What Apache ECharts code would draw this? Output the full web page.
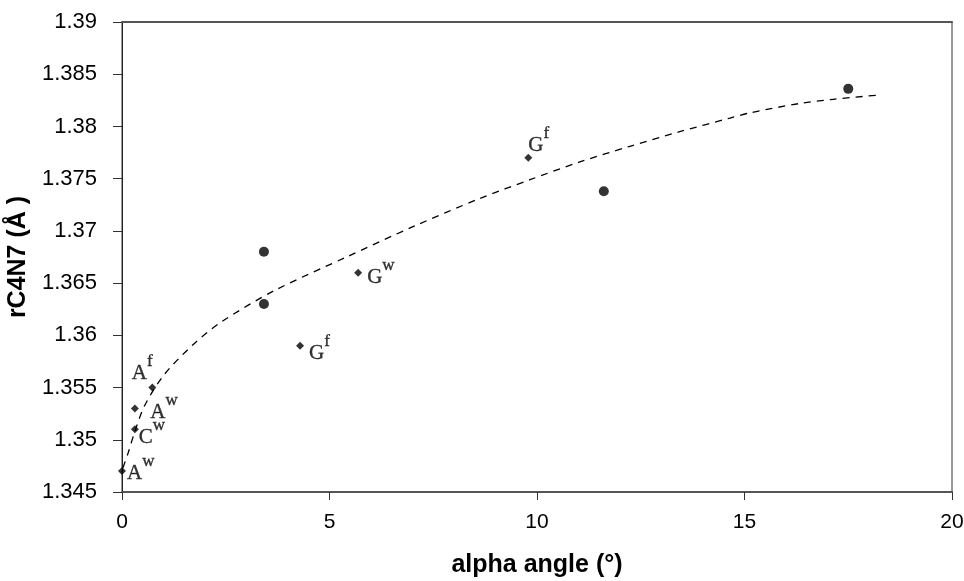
<!DOCTYPE html>
<html>
<head>
<meta charset="utf-8">
<script src="https://cdn.jsdelivr.net/npm/echarts@6/dist/echarts.min.js"></script>
<style>html,body{margin:0;padding:0;background:#fff;}#c{width:964px;height:581px;}</style>
</head>
<body>
<div id="c"></div>
<script>
// ---- data ----
const circleX = [3.42, 3.42, 11.61, 17.5];
const circleY = [1.368, 1.363, 1.3738, 1.3836];

const diamondX = [0.0, 0.31, 0.31, 0.73, 4.29, 5.69, 9.79];
const diamondY = [1.347, 1.351, 1.353, 1.355, 1.359, 1.366, 1.377];
const diamondBase = ['A', 'C', 'A', 'A', 'G', 'G', 'G'];
const diamondSup = ['w', 'w', 'w', 'f', 'f', 'w', 'f'];

const curveX = [0.02, 0.145, 0.31, 0.55, 1.01, 1.71, 2.40, 3.68, 5.41, 7.01, 8.62, 9.83, 11.03, 12.24, 13.44, 14.65, 15.13, 16.33, 17.14, 18.22];
const curveY = [1.3473, 1.3487, 1.3508, 1.3533, 1.3562, 1.3591, 1.3613, 1.3643, 1.3675, 1.3704, 1.3731, 1.3749, 1.3766, 1.3781, 1.3795, 1.3808, 1.3813, 1.3822, 1.3826, 1.3830];

const xTicks = [0, 5, 10, 15, 20];
const yTicks = [1.345, 1.35, 1.355, 1.36, 1.365, 1.37, 1.375, 1.38, 1.385, 1.39];

// ---- label placement (styling) ----
const labelOffsets = [[-4, -7.5], [-5, -1.5], [6.5, -6], [-29.5, -24], [0, -2], [0, -5.5], [-9, -22.5]];

const chart = echarts.init(document.getElementById('c'), null, {renderer: 'canvas'});

const txt = {fontFamily: 'Liberation Serif', color: '#000', textBorderColor: '#000', textBorderWidth: 0.35};
const diamondData = diamondX.map((x, i) => ({
  value: [x, diamondY[i]],
  label: {
    show: true,
    position: 'right',
    distance: 5,
    color: '#000',
    offset: labelOffsets[i],
    formatter: '{b|' + diamondBase[i] + '}{s|' + diamondSup[i] + '}',
    rich: {
      b: Object.assign({fontSize: 21, lineHeight: 21, padding: [10, 0, 0, 0], verticalAlign: 'top'}, txt),
      s: Object.assign({fontSize: 17, lineHeight: 17, verticalAlign: 'top'}, txt)
    }
  }
}));

const option = {
  animation: false,
  backgroundColor: '#fff',
  grid: {left: 122, right: 12, top: 22, bottom: 89, show: true, borderColor: '#333', borderWidth: 1,
    containLabel: false, outerBoundsMode: 'none'},
  xAxis: [{
    type: 'value', min: 0, max: 20, interval: 5,
    name: 'alpha angle (°)', nameLocation: 'middle', nameGap: 61,
    nameTextStyle: {fontFamily: 'Liberation Sans', fontWeight: 'bold', fontSize: 25, color: '#000'},
    axisLine: {show: true, onZero: false, lineStyle: {color: '#555', width: 2}},
    axisTick: {show: true, inside: false, length: 8, lineStyle: {color: '#333', width: 1}},
    axisLabel: {margin: 20, fontFamily: 'Liberation Sans', fontSize: 21, color: '#000',
      formatter: v => xTicks.includes(v) ? String(v) : ''},
    splitLine: {show: false}
  }, {
    type: 'value', position: 'top', min: 0, max: 20,
    axisLine: {show: true, lineStyle: {color: '#555', width: 2}},
    axisTick: {show: false}, axisLabel: {show: false}, splitLine: {show: false}
  }],
  yAxis: {
    type: 'value', min: 1.345, max: 1.39, interval: 0.005,
    name: 'rC4N7 (Å )', nameLocation: 'middle', nameGap: 84,
    nameTextStyle: {fontFamily: 'Liberation Sans', fontWeight: 'bold', fontSize: 25, color: '#000'},
    axisLine: {show: true, onZero: false, lineStyle: {color: '#222', width: 1}},
    axisTick: {show: true, inside: false, length: 9, lineStyle: {color: '#333', width: 1}},
    axisLabel: {margin: 25, fontFamily: 'Liberation Sans', fontSize: 22, color: '#000',
      formatter: v => { const t = yTicks.find(k => Math.abs(k - v) < 1e-9); return t === undefined ? '' : String(t); }},
    splitLine: {show: false}
  },
  series: [{
    type: 'line',
    data: curveX.map((x, i) => [x, curveY[i]]),
    smooth: 0.3,
    showSymbol: false,
    symbol: 'none',
    lineStyle: {color: '#000', width: 1.3, type: [7, 6]},
    z: 2
  }, {
    type: 'scatter',
    data: circleX.map((x, i) => [x, circleY[i]]),
    symbol: 'circle', symbolSize: 10,
    itemStyle: {color: '#000'},
    z: 3
  }, {
    type: 'scatter',
    data: diamondData,
    symbol: 'diamond', symbolSize: 8,
    itemStyle: {color: '#000'},
    z: 4
  }]
};
chart.setOption(option);
</script>
</body>
</html>
